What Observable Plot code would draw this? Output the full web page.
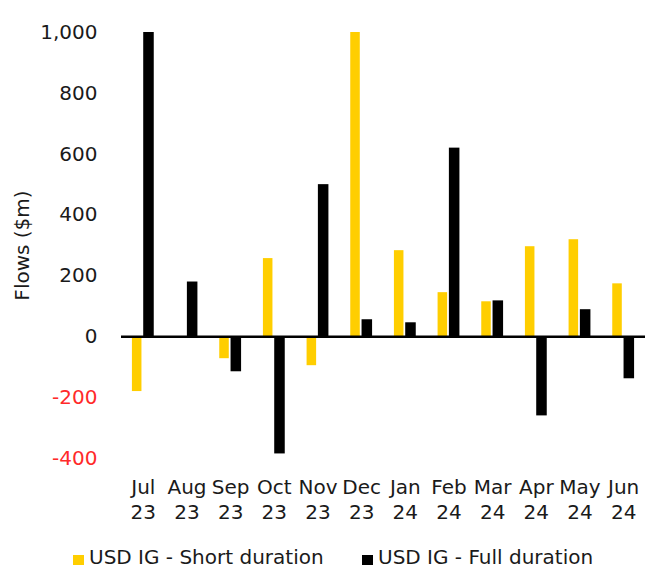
<!DOCTYPE html>
<html><head><meta charset="utf-8">
<script src="https://cdn.jsdelivr.net/npm/d3@7"></script>
<script src="https://cdn.jsdelivr.net/npm/@observablehq/plot@0.6"></script>
<style>
body{margin:0;background:#fff;font-family:"DejaVu Sans",sans-serif;color:#1a1a1a;}
#legend{position:relative;width:659px;height:41px;font-size:20px;}
#legend .item{position:absolute;top:15px;white-space:nowrap;}
#legend .sw{display:inline-block;width:11px;height:10px;margin-right:5px;vertical-align:-1px;}
</style></head><body>
<div id="chart"></div>
<div id="legend"></div>
<script>
const months = ["Jul 23","Aug 23","Sep 23","Oct 23","Nov 23","Dec 23","Jan 24","Feb 24","Mar 24","Apr 24","May 24","Jun 24"];
const shortDuration = [-180, 0, -72, 257, -95, 1000, 283, 145, 115, 296, 319, 174];
const fullDuration  = [1000, 180, -115, -385, 500, 56, 46, 620, 118, -260, 89, -138];
const yTicks = [-400, -200, 0, 200, 400, 600, 800, 1000];
const seriesNames = ["USD IG - Short duration", "USD IG - Full duration"];
const colors = ["#ffce00", "#000000"];

const shortData = months.map((m, i) => ({month: m, value: shortDuration[i]}));
const fullData = months.map((m, i) => ({month: m, value: fullDuration[i]}));
const fmt = d => d.toLocaleString("en-US");

const chart = Plot.plot({
  width: 659, height: 530,
  marginLeft: 121, marginRight: 14, marginTop: 32, marginBottom: 72,
  style: {fontFamily: "DejaVu Sans, sans-serif", fontSize: "20px", color: "#1a1a1a", background: "white", overflow: "visible"},
  x: {domain: months, paddingInner: 0.5, paddingOuter: 0.25, round: false, axis: null},
  y: {domain: [-400, 1000], axis: null},
  marks: [
    Plot.barY(shortData, {x: "month", y: "value", fill: colors[0], insetRight: 12.3}),
    Plot.barY(fullData, {x: "month", y: "value", fill: colors[1], insetLeft: 11.3}),
    Plot.ruleY([0], {stroke: "#000", strokeWidth: 2.5}),
    Plot.axisX({tickSize: 0, tickPadding: 18, tickFormat: d => d.replace(" ", "\n"), lineHeight: 1.25, fontSize: 20, label: null}),
    Plot.axisY(yTicks.filter(d => d >= 0), {tickSize: 0, tickPadding: 24, tickFormat: fmt, fontSize: 20,
      label: "Flows ($m)", labelAnchor: "center", labelArrow: "none", labelOffset: 107}),
    Plot.axisY(yTicks.filter(d => d < 0), {tickSize: 0, tickPadding: 24, tickFormat: fmt, fontSize: 20, fill: "#ff2a2a", label: null})
  ]
});
document.getElementById("chart").appendChild(chart);

const legend = document.getElementById("legend");
const lefts = [73, 362];
seriesNames.forEach((name, i) => {
  const it = document.createElement("span");
  it.className = "item";
  it.style.left = lefts[i] + "px";
  const sw = document.createElement("span");
  sw.className = "sw";
  sw.style.background = colors[i];
  it.appendChild(sw);
  it.appendChild(document.createTextNode(name));
  legend.appendChild(it);
});
</script>
</body></html>
